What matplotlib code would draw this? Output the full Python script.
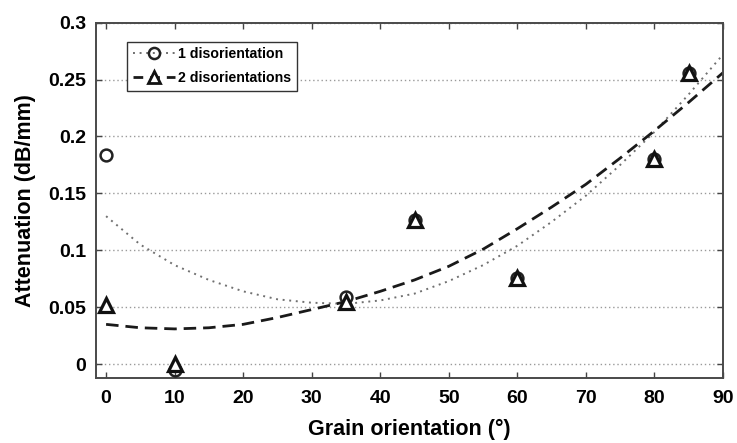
import numpy as np
import matplotlib as mpl
mpl.use('Agg')
import matplotlib.pyplot as plt
from matplotlib.ticker import FormatStrFormatter

mpl.rcParams['font.family'] = ['Liberation Sans', 'DejaVu Sans']
mpl.rcParams['font.weight'] = 'bold'

# measured points
angles = [0, 10, 35, 45, 60, 80, 85]
att_1dis = [0.184, -0.005, 0.059, 0.127, 0.076, 0.180, 0.256]
att_2dis = [0.052, 0.000, 0.055, 0.127, 0.076, 0.180, 0.256]

fit_x = [0, 5, 10, 15, 20, 25, 30, 35, 40, 45, 50, 55, 60, 65, 70, 75, 80, 85, 90]
fit_1dis = [0.130, 0.105, 0.087, 0.074, 0.064, 0.057, 0.054, 0.053, 0.056, 0.062,
			0.073, 0.087, 0.104, 0.125, 0.148, 0.175, 0.204, 0.237, 0.272]
fit_2dis = [0.035, 0.032, 0.031, 0.032, 0.035, 0.041, 0.048, 0.055, 0.064, 0.074,
			0.086, 0.101, 0.119, 0.138, 0.158, 0.181, 0.205, 0.230, 0.256]

xticks = [0, 10, 20, 30, 40, 50, 60, 70, 80, 90]
yticks = [0, 0.05, 0.1, 0.15, 0.2, 0.25, 0.3]

dotted = (0, (1, 2.4))
dashed = (0, (4.5, 2.5))

fig = plt.figure(figsize=(7.37, 4.43), dpi=100)
ax = fig.add_axes([0.130, 0.147, 0.851, 0.802])

# curves first so markers sit on top
ax.plot(fit_x, fit_1dis, linestyle=dotted, color='#707070', linewidth=1.4, zorder=2)
ax.plot(fit_x, fit_2dis, linestyle=dashed, color='#1a1a1a', linewidth=2.0, zorder=2)

ax.plot(angles, att_1dis, linestyle='none', marker='o', markersize=8.5,
		markerfacecolor='none', markeredgecolor='#222222', markeredgewidth=1.8, zorder=3)
ax.plot(angles, att_2dis, linestyle='none', marker='^', markersize=10,
		markerfacecolor='white', markeredgecolor='#111111', markeredgewidth=2.3, zorder=4)

# legend proxies (line + marker)
h1, = ax.plot([], [], linestyle=dotted, color='#707070', linewidth=1.4,
		marker='o', markersize=8, markerfacecolor='none', markeredgecolor='#222222', markeredgewidth=1.8)
h2, = ax.plot([], [], linestyle=(0, (3.5, 2.5)), color='#1a1a1a', linewidth=2.0,
		marker='^', markersize=9, markerfacecolor='white', markeredgecolor='#111111', markeredgewidth=2.0)
leg = ax.legend([h1, h2], ['1 disorientation', '2 disorientations'],
		loc='upper left', bbox_to_anchor=(0.05, 0.946), borderaxespad=0,
		fancybox=False, framealpha=1, edgecolor='#333333', fontsize=10.2,
		handlelength=3.0, handletextpad=0.2, labelspacing=0.7, borderpad=0.4)
leg.get_frame().set_linewidth(1.0)

ax.set_xlim(-1.5, 90)
ax.set_ylim(-0.012, 0.3)
ax.set_xticks(xticks)
ax.set_yticks(yticks)
ax.yaxis.set_major_formatter(FormatStrFormatter('%g'))

ax.yaxis.grid(True, linestyle=(0, (1, 2)), color='#9a9a9a', linewidth=1.0)
ax.xaxis.grid(False)
ax.set_axisbelow(True)

ax.tick_params(direction='in', top=True, right=True, length=4, width=1.0,
		color='#444444', labelsize=14, pad=7)
ax.tick_params(axis='x', pad=9)
for lbl in ax.get_xticklabels() + ax.get_yticklabels():
	lbl.set_fontweight('bold')
for sp in ax.spines.values():
	sp.set_linewidth(1.4)
	sp.set_color('#4a4a4a')

ax.set_xlabel('Grain orientation (°)', fontsize=15.5, fontweight='bold', labelpad=8)
ax.set_ylabel('Attenuation (dB/mm)', fontsize=15.5, fontweight='bold', labelpad=9)

fig.savefig('out.png', dpi=100)
